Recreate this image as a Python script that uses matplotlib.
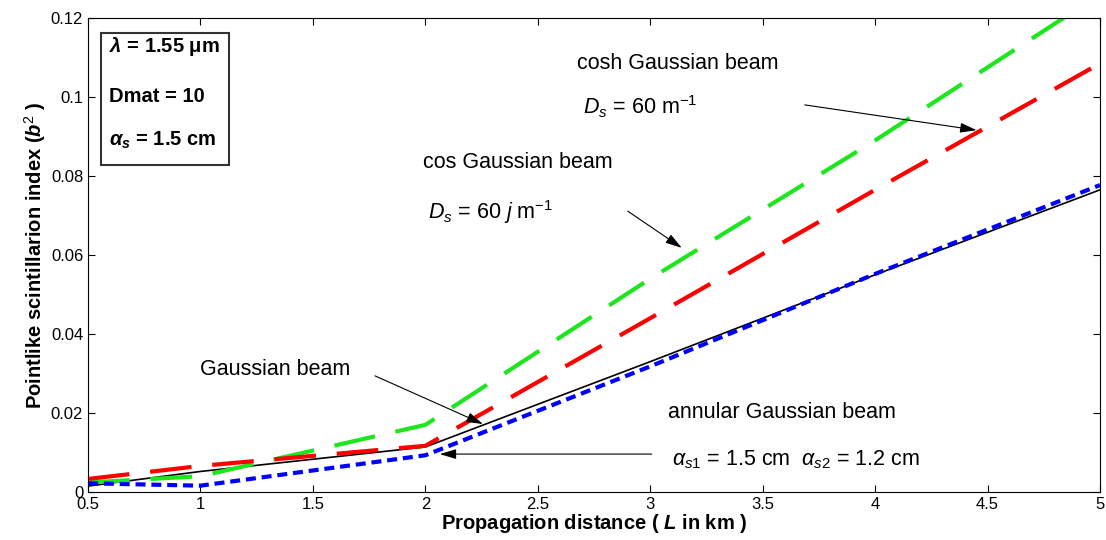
import matplotlib
matplotlib.use('Agg')
import matplotlib.pyplot as plt
from matplotlib.patches import Rectangle

plt.rcParams['font.family'] = ['Liberation Sans', 'DejaVu Sans']
plt.rcParams['mathtext.fontset'] = 'custom'
plt.rcParams['mathtext.rm'] = 'Liberation Sans'
plt.rcParams['mathtext.it'] = 'Liberation Sans:italic'
plt.rcParams['mathtext.bf'] = 'Liberation Sans:bold'
plt.rcParams['mathtext.bfit'] = 'Liberation Sans:bold:italic'

# propagation distance (km)
L = [0.5, 1, 2, 3, 4, 5]

# scintillation index for each beam
gauss = [0.0015, 0.0052, 0.0114, 0.0330, 0.0550, 0.0765]
cosh_gauss = [0.0024, 0.0040, 0.0170, 0.0540, 0.0890, 0.1260]
cos_gauss = [0.0033, 0.0066, 0.0117, 0.0440, 0.0765, 0.1085]
annular = [0.0022, 0.0016, 0.0093, 0.0318, 0.0552, 0.0777]

xticks = [0.5, 1, 1.5, 2, 2.5, 3, 3.5, 4, 4.5, 5]
xtick_labels = ['0.5', '1', '1.5', '2', '2.5', '3', '3.5', '4', '4.5', '5']
yticks = [0, 0.02, 0.04, 0.06, 0.08, 0.1, 0.12]
ytick_labels = ['0', '0.02', '0.04', '0.06', '0.08', '0.1', '0.12']

fig = plt.figure(figsize=(11.06, 5.4), dpi=100)
ax = fig.add_axes([0.0796, 0.0889, 0.915, 0.8778])

ax.plot(L, gauss, color='black', lw=1.2)
ax.plot(L, cosh_gauss, color='#1ee61e', lw=3, dashes=(10, 5))
ax.plot(L, cos_gauss, color='#ff0000', lw=3, dashes=(10, 5))
ax.plot(L, annular, color='#0000ff', lw=3, dashes=(2.4, 1.4))

ax.set_xlim(0.5, 5)
ax.set_ylim(0, 0.12)
ax.set_xticks(xticks)
ax.set_xticklabels(xtick_labels)
ax.set_yticks(yticks)
ax.set_yticklabels(ytick_labels)
ax.tick_params(direction='in', top=True, right=True, labelsize=12, length=5)

ax.set_xlabel(r'Propagation distance ( $\mathbfit{L}$ in km )', fontsize=14.5,
              fontweight='bold', labelpad=0)
ax.set_ylabel(r'Pointlike scintillarion index ($\mathbfit{b}^2$ )', fontsize=14.5,
              fontweight='bold', labelpad=2)

# parameter box
ax.add_patch(Rectangle((0.0125, 0.690), 0.127, 0.279, transform=ax.transAxes,
                       fill=False, edgecolor='#333333', lw=1.5))
bfs = 14.5
ax.text(0.021, 0.939, r'$\mathbfit{\lambda}$ = 1.55 $\mathbf{\mu}$m', transform=ax.transAxes,
        fontsize=bfs, fontweight='bold', va='center')
ax.text(0.021, 0.834, 'Dmat = 10', transform=ax.transAxes,
        fontsize=bfs, fontweight='bold', va='center')
ax.text(0.021, 0.742, r'$\mathbfit{\alpha_s}$ = 1.5 cm', transform=ax.transAxes,
        fontsize=bfs, fontweight='bold', va='center')

# annotations
fs = 15.5
ax.text(2.673, 0.1086, 'cosh Gaussian beam', fontsize=fs, va='center')
ax.text(2.70, 0.0975, r'$D_s$ = 60 m$^{-1}$', fontsize=fs, va='center')
ax.text(1.989, 0.0835, 'cos Gaussian beam', fontsize=fs, va='center')
ax.text(2.011, 0.0709, r'$D_s$ = 60 $j$ m$^{-1}$', fontsize=fs, va='center')
ax.text(0.998, 0.0311, 'Gaussian beam', fontsize=fs, va='center')
ax.text(3.078, 0.0200, 'annular Gaussian beam', fontsize=fs, va='center')
ax.text(3.096, 0.0081, r'$\alpha_{s1}$ = 1.5 cm  $\alpha_{s2}$ = 1.2 cm', fontsize=fs, va='center')

aprops = dict(arrowstyle='-|>,head_length=1.0,head_width=0.3', color='black', lw=0.8,
              shrinkA=0, shrinkB=0)
ax.annotate('', xy=(4.451, 0.0916), xytext=(3.687, 0.0980), arrowprops=aprops)
ax.annotate('', xy=(3.14, 0.0618), xytext=(2.90, 0.0711), arrowprops=aprops)
ax.annotate('', xy=(2.256, 0.0172), xytext=(1.776, 0.0294), arrowprops=aprops)
ax.annotate('', xy=(2.064, 0.0096), xytext=(3.007, 0.0096), arrowprops=aprops)

fig.savefig('out.png', dpi=100)
